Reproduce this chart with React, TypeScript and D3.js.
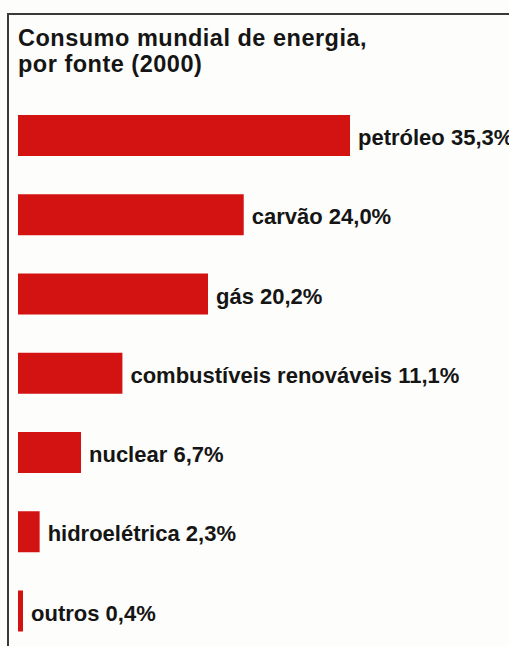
import React from "react";
import * as d3 from "d3";

const categories = ["petróleo", "carvão", "gás", "combustíveis renováveis", "nuclear", "hidroelétrica", "outros"];
const values = [35.3, 24.0, 20.2, 11.1, 6.7, 2.3, 0.4];
const valueLabels = ["35,3%", "24,0%", "20,2%", "11,1%", "6,7%", "2,3%", "0,4%"];
const titleLines = ["Consumo mundial de energia,", "por fonte (2000)"];

const W = 509;
const H = 646;

export default function App() {
  const x = d3.scaleLinear().domain([0, 35.3]).range([18, 350]);
  const y = d3.scalePoint<string>().domain(categories).range([135.5, 611]);
  const barH = 41;
  const font = "'Liberation Sans', Arial, Helvetica, sans-serif";
  return (
    <svg
      width={W}
      height={H}
      style={{ position: "absolute", left: 0, top: 0, background: "#fdfdfb" }}
    >
      <rect x={0} y={0} width={W} height={H} fill="#fdfdfb" />
      <line x1={8} y1={14} x2={W} y2={14} stroke="#3a3a3a" strokeWidth={2} />
      <line x1={8} y1={13} x2={8} y2={H} stroke="#3a3a3a" strokeWidth={2} />
      {titleLines.map((t, i) => (
        <text
          key={t}
          x={18}
          y={46 + i * 26}
          fontFamily={font}
          fontWeight="bold"
          fontSize={23.5}
          letterSpacing={0.5}
          fill="#151515"
        >
          {t}
        </text>
      ))}
      {categories.map((c, i) => {
        const cy = y(c) as number;
        const w = Math.max(5, x(values[i]) - x(0));
        return (
          <g key={c}>
            <rect x={x(0)} y={cy - barH / 2} width={w} height={barH} fill="#d31212" />
            <text
              x={x(0) + w + 8}
              y={cy + 9.5}
              fontFamily={font}
              fontWeight="bold"
              fontSize={22}
              fill="#151515"
            >
              {c} {valueLabels[i]}
            </text>
          </g>
        );
      })}
    </svg>
  );
}
